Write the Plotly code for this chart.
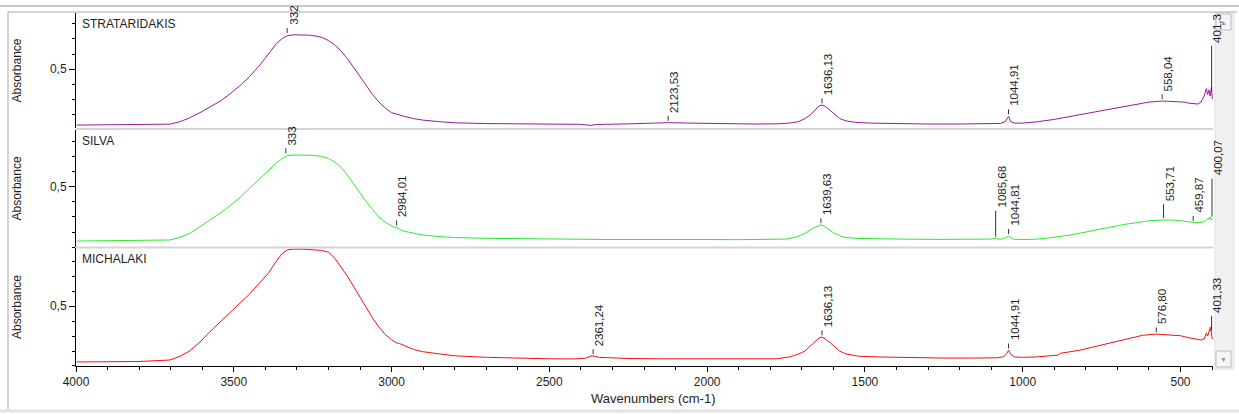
import plotly.graph_objects as go

# ---------------- data ----------------
panel_names = ["STRATARIDAKIS", "SILVA", "MICHALAKI"]
line_colors = ["#9a1a9a", "#2ee82e", "#f21010"]

strat_wn = [3998, 3900, 3800, 3702, 3670, 3640, 3607, 3575, 3540, 3512, 3480, 3450, 3420, 3390, 3365, 3345, 3330,
            3310, 3290, 3260, 3240, 3220, 3200, 3180, 3160, 3140, 3120, 3100, 3080, 3060, 3040, 3020, 3000, 2985,
            2975, 2960, 2930, 2900, 2850, 2800, 2700, 2600, 2500, 2400, 2370, 2350, 2250, 2150, 2123, 2050, 1950,
            1850, 1780, 1740, 1710, 1690, 1670, 1655, 1645, 1636, 1625, 1610, 1595, 1580, 1560, 1530, 1480, 1400,
            1300, 1200, 1100, 1070, 1055, 1045, 1038, 1025, 1000, 950, 900, 850, 800, 750, 700, 650, 600, 558, 520,
            490, 470, 455, 445, 435, 425, 418, 414, 410, 406, 402, 399]
strat_abs = [0.127, 0.128, 0.127, 0.133, 0.150, 0.175, 0.210, 0.250, 0.290, 0.335, 0.390, 0.450, 0.520, 0.600,
             0.670, 0.705, 0.722, 0.728, 0.728, 0.725, 0.720, 0.710, 0.690, 0.660, 0.620, 0.570, 0.510, 0.450,
             0.390, 0.330, 0.280, 0.240, 0.210, 0.200, 0.195, 0.185, 0.170, 0.160, 0.150, 0.142, 0.137, 0.134,
             0.132, 0.132, 0.125, 0.131, 0.135, 0.140, 0.143, 0.140, 0.136, 0.134, 0.135, 0.140, 0.150, 0.170,
             0.200, 0.235, 0.255, 0.260, 0.250, 0.225, 0.195, 0.170, 0.155, 0.145, 0.140, 0.136, 0.134, 0.134,
             0.136, 0.138, 0.150, 0.185, 0.150, 0.140, 0.140, 0.150, 0.165, 0.185, 0.205, 0.225, 0.245, 0.265,
             0.280, 0.287, 0.285, 0.280, 0.272, 0.266, 0.267, 0.280, 0.320, 0.370, 0.330, 0.360, 0.320, 0.380, 0.300]

silva_wn = [3998, 3900, 3800, 3702, 3670, 3640, 3607, 3575, 3540, 3512, 3480, 3450, 3420, 3390, 3365, 3345, 3330,
            3310, 3280, 3250, 3225, 3200, 3180, 3160, 3140, 3120, 3100, 3080, 3060, 3040, 3020, 3000, 2990, 2984,
            2975, 2960, 2930, 2900, 2850, 2800, 2700, 2600, 2500, 2400, 2300, 2200, 2100, 2000, 1900, 1800, 1750,
            1720, 1690, 1665, 1650, 1640, 1630, 1615, 1600, 1580, 1560, 1520, 1450, 1350, 1250, 1150, 1100, 1088,
            1080, 1060, 1050, 1044, 1038, 1030, 1000, 960, 920, 880, 850, 800, 760, 720, 680, 640, 600, 555, 520,
            490, 470, 460, 450, 440, 430, 420, 414, 410, 406, 402, 399]
silva_abs = [0.140, 0.141, 0.142, 0.147, 0.165, 0.190, 0.235, 0.280, 0.330, 0.375, 0.430, 0.490, 0.550, 0.610,
             0.660, 0.690, 0.708, 0.713, 0.713, 0.710, 0.705, 0.690, 0.665, 0.630, 0.580, 0.520, 0.460, 0.400,
             0.350, 0.300, 0.265, 0.240, 0.228, 0.232, 0.218, 0.205, 0.190, 0.180, 0.170, 0.163, 0.158, 0.155,
             0.152, 0.150, 0.150, 0.150, 0.152, 0.150, 0.149, 0.150, 0.153, 0.165, 0.190, 0.225, 0.240, 0.247,
             0.240, 0.220, 0.195, 0.175, 0.163, 0.157, 0.153, 0.152, 0.151, 0.151, 0.153, 0.158, 0.152, 0.155,
             0.168, 0.175, 0.165, 0.152, 0.150, 0.152, 0.160, 0.172, 0.180, 0.200, 0.218, 0.235, 0.250, 0.262,
             0.275, 0.280, 0.279, 0.272, 0.266, 0.260, 0.262, 0.263, 0.266, 0.275, 0.290, 0.285, 0.300, 0.280, 0.290]

mich_wn = [3998, 3900, 3800, 3702, 3670, 3640, 3607, 3575, 3540, 3512, 3480, 3450, 3420, 3390, 3365, 3345, 3330,
           3310, 3280, 3250, 3225, 3200, 3180, 3160, 3140, 3120, 3100, 3080, 3060, 3040, 3020, 3000, 2985, 2975,
           2960, 2930, 2900, 2850, 2800, 2700, 2600, 2500, 2420, 2385, 2365, 2355, 2340, 2320, 2250, 2150, 2050,
           1950, 1850, 1780, 1740, 1710, 1690, 1670, 1655, 1645, 1636, 1625, 1610, 1595, 1580, 1560, 1520, 1450,
           1350, 1250, 1150, 1080, 1060, 1050, 1045, 1038, 1025, 1000, 960, 920, 890, 880, 860, 820, 780, 740, 700,
           660, 620, 577, 540, 500, 470, 450, 435, 425, 418, 414, 410, 405, 401, 399]
mich_abs = [0.127, 0.128, 0.130, 0.140, 0.165, 0.200, 0.260, 0.330, 0.400, 0.455, 0.520, 0.580, 0.650, 0.720,
            0.800, 0.855, 0.875, 0.880, 0.880, 0.878, 0.872, 0.860, 0.820, 0.760, 0.700, 0.630, 0.560, 0.490,
            0.420, 0.360, 0.310, 0.275, 0.255, 0.250, 0.235, 0.210, 0.195, 0.180, 0.168, 0.158, 0.152, 0.148,
            0.147, 0.152, 0.168, 0.162, 0.157, 0.156, 0.150, 0.148, 0.148, 0.147, 0.145, 0.148, 0.160, 0.180,
            0.200, 0.240, 0.270, 0.288, 0.293, 0.280, 0.255, 0.225, 0.200, 0.180, 0.165, 0.160, 0.155, 0.153,
            0.153, 0.155, 0.162, 0.185, 0.205, 0.178, 0.160, 0.158, 0.160, 0.165, 0.172, 0.185, 0.190, 0.205,
            0.225, 0.245, 0.270, 0.290, 0.305, 0.313, 0.310, 0.302, 0.287, 0.280, 0.273, 0.280, 0.320, 0.300,
            0.330, 0.360, 0.300, 0.280]

# peak labels: wavenumber, text shown, absorbance of the peak
strat_peaks_wn = [3331, 2123.53, 1636.13, 1044.91, 558.04, 401.3]
strat_peaks_txt = ["332", "2123,53", "1636,13", "1044,91", "558,04", "401,3"]
strat_peaks_abs = [0.728, 0.143, 0.260, 0.187, 0.287, 0.340]

silva_peaks_wn = [3335, 2984.01, 1639.63, 1085.68, 1044.81, 553.71, 459.87, 400.07]
silva_peaks_txt = ["333", "2984,01", "1639,63", "1085,68", "1044,81", "553,71", "459,87", "400,07"]
silva_peaks_abs = [0.713, 0.232, 0.247, 0.156, 0.175, 0.280, 0.262, 0.290]

mich_peaks_wn = [2361.24, 1636.13, 1044.91, 576.80, 401.33]
mich_peaks_txt = ["2361,24", "1636,13", "1044,91", "576,80", "401,33"]
mich_peaks_abs = [0.167, 0.293, 0.205, 0.313, 0.320]

# ---------------- styling (kept apart from the data) ----------------
strat_lift = [0, 0, 0, 0, 0, 0.27]
silva_lift = [0, 0, 0, 0.14, 0, 0.06, 0, 0.22]
mich_lift = [0, 0, 0, 0, 0.07]

FONT = "Liberation Sans, Arial, sans-serif"
TXT = "#1e1e1e"
W, H = 1239, 414
L, R, T, B = 76, 26, 13, 48
PW, PH = W - L - R, H - T - B

domains = {"y3": [0.674, 1.0], "y2": [0.337, 0.669], "y": [0.0, 0.334]}
yranges = {"y3": [0.107, 0.873], "y2": [0.100, 0.880], "y": [0.100, 0.887]}

panels = [
    ("y3", panel_names[0], line_colors[0], strat_wn, strat_abs, strat_peaks_wn, strat_peaks_txt, strat_peaks_abs, strat_lift),
    ("y2", panel_names[1], line_colors[1], silva_wn, silva_abs, silva_peaks_wn, silva_peaks_txt, silva_peaks_abs, silva_lift),
    ("y", panel_names[2], line_colors[2], mich_wn, mich_abs, mich_peaks_wn, mich_peaks_txt, mich_peaks_abs, mich_lift),
]

def px_x(px):
    return (px - L) / PW

def px_y(py):
    return (H - B - py) / PH

fig = go.Figure()
shapes = []
annotations = []

for yref, name, col, wn, ab, pwn, ptxt, pab, plift in panels:
    fig.add_trace(go.Scatter(x=wn, y=ab, mode="lines", xaxis="x", yaxis=yref,
                             line=dict(color=col, width=1), hoverinfo="skip", showlegend=False))
    for w_, t_, a_, lf in zip(pwn, ptxt, pab, plift):
        top = a_ + lf + 0.045
        shapes.append(dict(type="line", xref="x", yref=yref, x0=w_, x1=w_, y0=a_ + 0.012, y1=top,
                           line=dict(color="#333333", width=1)))
        annotations.append(dict(x=w_, y=top, xref="x", yref=yref, text=t_, textangle=-90, showarrow=False,
                                xanchor="left", yanchor="bottom", xshift=-2, yshift=1,
                                font=dict(family=FONT, size=11.5, color=TXT)))
    dom = yref + " domain"
    annotations.append(dict(x=0.0035, y=1, xref="paper", yref=dom, text=name, showarrow=False,
                            xanchor="left", yanchor="top", yshift=-2,
                            font=dict(family=FONT, size=12, color=TXT)))
    annotations.append(dict(x=px_x(17), y=0.5, xref="paper", yref=dom, text="Absorbance", textangle=-90,
                            showarrow=False, xanchor="center", yanchor="middle",
                            font=dict(family=FONT, size=12, color=TXT)))

annotations.append(dict(x=px_x(653), y=px_y(398), xref="paper", yref="paper", text="Wavenumbers (cm-1)",
                        showarrow=False, xanchor="center", yanchor="middle",
                        font=dict(family=FONT, size=13, color=TXT)))

# panel separators
for py in (129, 247.5):
    shapes.append(dict(type="line", xref="paper", yref="paper", x0=0, x1=1, y0=px_y(py), y1=px_y(py),
                       line=dict(color="#d4d4d4", width=2)))

# window frame
shapes += [
    dict(type="line", xref="paper", yref="paper", x0=px_x(0), x1=px_x(1239), y0=px_y(6), y1=px_y(6),
         line=dict(color="#c8c8c8", width=2)),
    dict(type="line", xref="paper", yref="paper", x0=px_x(8), x1=px_x(1237), y0=px_y(12), y1=px_y(12),
         line=dict(color="#a8a8a8", width=1)),
    dict(type="line", xref="paper", yref="paper", x0=px_x(8), x1=px_x(8), y0=px_y(12), y1=px_y(411),
         line=dict(color="#a8a8a8", width=1)),
    dict(type="line", xref="paper", yref="paper", x0=px_x(0), x1=px_x(1239), y0=px_y(411), y1=px_y(411),
         line=dict(color="#e4e4e4", width=3)),
    dict(type="rect", xref="paper", yref="paper", x0=px_x(1215), x1=px_x(1234), y0=px_y(13), y1=px_y(369),
         fillcolor="#f1f1f1", line=dict(color="#e2e2e2", width=1), layer="below"),
    dict(type="rect", xref="paper", yref="paper", x0=px_x(1216), x1=px_x(1231), y0=px_y(14), y1=px_y(30),
         fillcolor="#f6f6f6", line=dict(color="#bdbdbd", width=1)),
    dict(type="rect", xref="paper", yref="paper", x0=px_x(1216), x1=px_x(1231), y0=px_y(351), y1=px_y(367),
         fillcolor="#f6f6f6", line=dict(color="#bdbdbd", width=1)),
]
annotations += [
    dict(x=px_x(1223.5), y=px_y(22), xref="paper", yref="paper", text="▲", showarrow=False,
         font=dict(size=7, color="#9a9a9a"), xanchor="center", yanchor="middle"),
    dict(x=px_x(1223.5), y=px_y(359), xref="paper", yref="paper", text="▼", showarrow=False,
         font=dict(size=7, color="#9a9a9a"), xanchor="center", yanchor="middle"),
]

yaxis_common = dict(anchor="x", showline=True, linecolor="black", linewidth=1, ticks="outside", ticklen=6,
                    tickcolor="black", tickmode="array", tickvals=[0.5], ticktext=["0,5"],
                    minor=dict(ticks="outside", ticklen=3, tickmode="linear", tick0=0, dtick=0.1, tickcolor="black"),
                    showgrid=False, zeroline=False, fixedrange=True,
                    tickfont=dict(family=FONT, size=12, color=TXT))

fig.update_layout(
    width=W, height=H, autosize=False,
    margin=dict(l=L, r=R, t=T, b=B, pad=0),
    paper_bgcolor="white", plot_bgcolor="white",
    showlegend=False, hovermode=False,
    xaxis=dict(range=[4000, 397], anchor="y", showline=True, linecolor="black", linewidth=1,
               ticks="outside", ticklen=5, tickcolor="black", tick0=0, dtick=500,
               minor=dict(ticks="outside", ticklen=3, tick0=0, dtick=100, tickcolor="black"),
               showgrid=False, zeroline=False, fixedrange=True,
               tickfont=dict(family=FONT, size=12, color=TXT)),
    yaxis=dict(domain=domains["y"], range=yranges["y"], **yaxis_common),
    yaxis2=dict(domain=domains["y2"], range=yranges["y2"], **yaxis_common),
    yaxis3=dict(domain=domains["y3"], range=yranges["y3"], **yaxis_common),
    shapes=shapes,
    annotations=annotations,
)

fig.write_html("out.html")
